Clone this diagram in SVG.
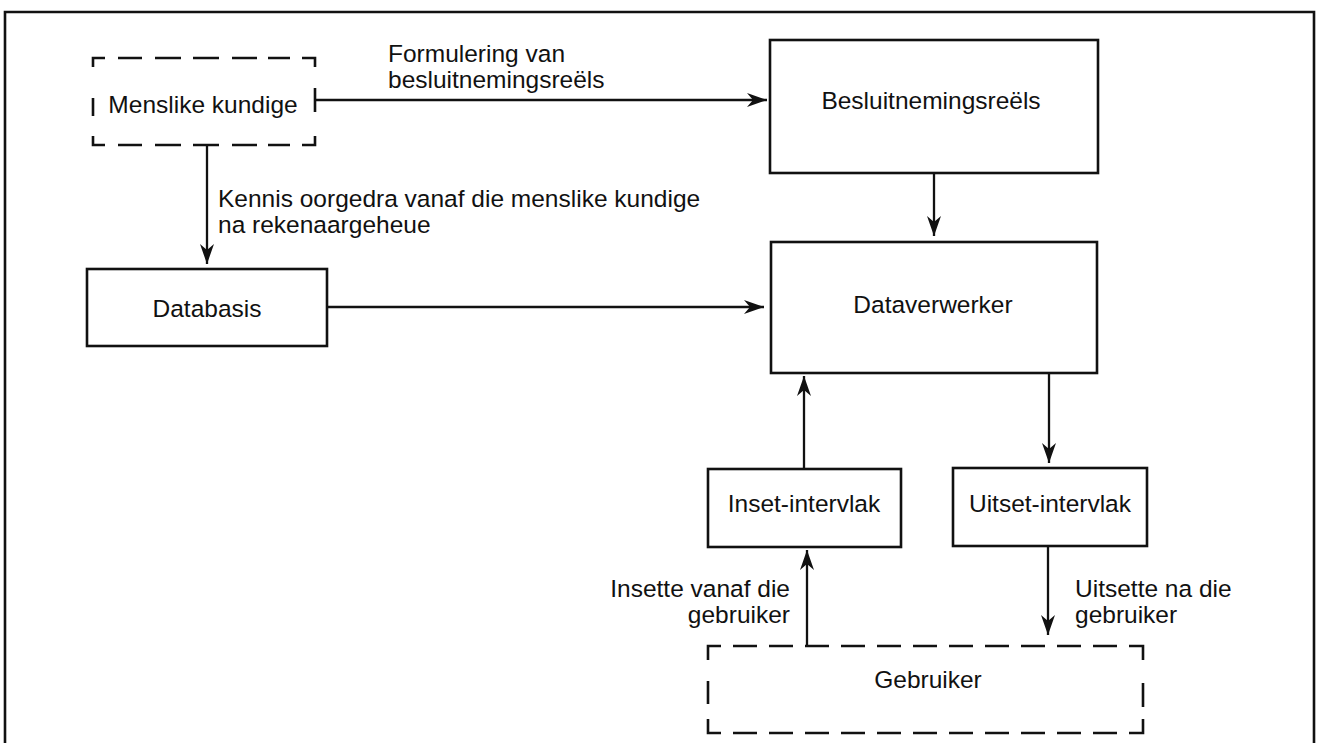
<svg xmlns="http://www.w3.org/2000/svg" width="1320" height="743" viewBox="0 0 1320 743">
<defs>
<marker id="ah" markerUnits="userSpaceOnUse" markerWidth="22" markerHeight="16" refX="20" refY="8" orient="auto">
<path d="M0,1 L20,8 L0,15 L6,8 z" fill="#111"/>
</marker>
<style>
.box{fill:none;stroke:#111;stroke-width:2.6}
.dash{fill:none;stroke:#111;stroke-width:2.6}
.conn{fill:none;stroke:#111;stroke-width:2.3;marker-end:url(#ah)}
.lbl{font-family:"Liberation Sans",Arial,sans-serif;font-size:24.5px;fill:#111}
.mid{text-anchor:middle}
.end{text-anchor:end}
</style>
</defs>
<rect width="1320" height="743" fill="#fff"/>
<path d="M5,760 L5,12 L1314,12 L1314,760" fill="none" stroke="#111" stroke-width="2.6"/>

<g id="menslike">
<path class="dash" d="M93,67 V58 H105 M118,58 H142 M155,58 H181 M193,58 H219 M232,58 H257 M268,58 H290 M302,58 H315 V67 M93,136 V145 H105 M118,145 H142 M155,145 H181 M193,145 H219 M232,145 H257 M268,145 H290 M302,145 H315 V136 M93,98 V116 M315,88 V112"/>
<text class="lbl mid" x="203" y="113">Menslike kundige</text>
</g>

<g id="besluit">
<rect class="box" x="770" y="40" width="328" height="133"/>
<text class="lbl mid" x="931" y="109">Besluitnemingsreëls</text>
</g>

<g id="databasis">
<rect class="box" x="87" y="269" width="240" height="77"/>
<text class="lbl mid" x="207" y="317">Databasis</text>
</g>

<g id="dataverwerker">
<rect class="box" x="771" y="242" width="326" height="131"/>
<text class="lbl mid" x="933" y="313">Dataverwerker</text>
</g>

<g id="inset">
<rect class="box" x="708" y="469" width="193" height="78"/>
<text class="lbl mid" x="804" y="512">Inset-intervlak</text>
</g>

<g id="uitset">
<rect class="box" x="953" y="468" width="194" height="78"/>
<text class="lbl mid" x="1050" y="512">Uitset-intervlak</text>
</g>

<g id="gebruiker">
<path class="dash" d="M708,660 V646 H721 M733,646 H757 M769,646 H793 M805,646 H829 M841,646 H865 M877,646 H901 M913,646 H937 M949,646 H973 M985,646 H1009 M1021,646 H1045 M1057,646 H1081 M1093,646 H1117 M1129,646 H1143 V660 M708,719 V733 H721 M733,733 H757 M769,733 H793 M805,733 H829 M841,733 H865 M877,733 H901 M913,733 H937 M949,733 H973 M985,733 H1009 M1021,733 H1045 M1057,733 H1081 M1093,733 H1117 M1129,733 H1143 V719 M708,681 V704 M1143,683 V707"/>
<text class="lbl mid" x="928" y="688">Gebruiker</text>
</g>

<g id="connectors">
<line class="conn" x1="315" y1="100" x2="767" y2="100"/>
<line class="conn" x1="207" y1="145" x2="207" y2="264"/>
<line class="conn" x1="934" y1="173" x2="934" y2="236"/>
<line class="conn" x1="327" y1="307" x2="764" y2="307"/>
<line class="conn" x1="804" y1="469" x2="804" y2="376"/>
<line class="conn" x1="1049" y1="373" x2="1049" y2="463"/>
<line class="conn" x1="807" y1="646" x2="807" y2="550"/>
<line class="conn" x1="1048" y1="546" x2="1048" y2="635"/>
<text class="lbl" x="388" y="62">Formulering van</text>
<text class="lbl" x="388" y="88">besluitnemingsreëls</text>
<text class="lbl" x="218" y="207">Kennis oorgedra vanaf die menslike kundige</text>
<text class="lbl" x="218" y="233">na rekenaargeheue</text>
<text class="lbl end" x="790" y="597">Insette vanaf die</text>
<text class="lbl end" x="790" y="623">gebruiker</text>
<text class="lbl" x="1075" y="597">Uitsette na die</text>
<text class="lbl" x="1075" y="623">gebruiker</text>
</g>
</svg>
